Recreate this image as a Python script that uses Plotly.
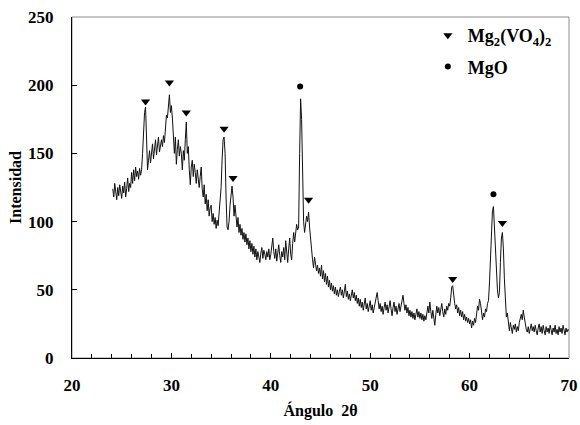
import numpy as np
import plotly.graph_objects as go

# Diffraction scan: 2θ from 24.1° to 70.0° in 0.1° steps
two_theta_start = 24.1
two_theta_step = 0.1

intensity = [
    # 24.1 - 24.9
    124, 118, 128, 121, 116, 125, 119, 127, 120,
    # 25.0 - 25.9
    117, 126, 121, 129, 118, 124, 132, 122, 128, 125,
    # 26.0 - 26.9
    136, 128, 138, 130, 140, 133, 137, 131, 139, 134,
    # 27.0 - 27.9
    138, 150, 168, 180, 184, 160, 138, 145, 152, 143,
    # 28.0 - 28.9
    150, 157, 146, 154, 160, 149, 156, 162, 151, 158,
    # 29.0 - 29.9
    160, 155, 163, 158, 170, 178, 176, 186, 193, 180,
    # 30.0 - 30.9
    185, 176, 158, 150, 162, 142, 153, 160, 148, 155,
    # 31.0 - 31.9
    150, 138, 152, 145, 160, 173, 150, 155, 138, 127,
    # 32.0 - 32.9
    140, 145, 133, 142, 136, 128, 138, 130, 125, 133,
    # 33.0 - 33.9
    140, 124, 118, 127, 113, 120, 108, 116, 104, 110,
    # 34.0 - 34.9
    112, 100, 106, 98, 103, 95, 101, 97, 105, 112,
    # 35.0 - 35.9
    125, 145, 160, 162, 150, 118, 96, 94, 100, 112,
    # 36.0 - 36.9
    118, 126, 118, 104, 112, 100, 96, 103, 92, 98,
    # 37.0 - 37.9
    90, 95, 87, 92, 85, 91, 83, 88, 80, 86,
    # 38.0 - 38.9
    78, 84, 76, 82, 74, 80, 72, 78, 75, 70,
    # 39.0 - 39.9
    77, 81, 73, 79, 76, 72, 78, 74, 80, 72,
    # 40.0 - 40.9
    76, 82, 88, 78, 73, 80, 71, 77, 83, 75,
    # 41.0 - 41.9
    70, 78, 74, 81, 72, 86, 76, 70, 80, 88,
    # 42.0 - 42.9
    76, 72, 84, 92, 85, 90, 98, 94, 96, 150,
    # 43.0 - 43.9
    190, 175, 130, 100, 92, 98, 104, 100, 107, 96,
    # 44.0 - 44.9
    90, 80, 72, 66, 74, 70, 64, 68, 62, 66,
    # 45.0 - 45.9
    60, 68, 58, 64, 56, 62, 54, 60, 52, 57,
    # 46.0 - 46.9
    50, 55, 49, 53, 47, 52, 46, 50, 45, 49,
    # 47.0 - 47.9
    52, 46, 50, 44, 48, 54, 45, 49, 43, 47,
    # 48.0 - 48.9
    42, 46, 50, 44, 48, 42, 46, 40, 44, 38,
    # 49.0 - 49.9
    43, 37, 41, 35, 39, 44, 36, 40, 34, 38,
    # 50.0 - 50.9
    42, 35, 39, 33, 37, 41, 44, 48, 42, 36,
    # 51.0 - 51.9
    40, 34, 38, 32, 37, 41, 35, 39, 33, 37,
    # 52.0 - 52.9
    42, 36, 31, 37, 41, 34, 38, 32, 36, 40,
    # 53.0 - 53.9
    34, 38, 42, 46, 40, 35, 39, 33, 37, 31,
    # 54.0 - 54.9
    35, 30, 34, 29, 33, 28, 32, 36, 30, 34,
    # 55.0 - 55.9
    29, 33, 28, 32, 27, 31, 28, 35, 38, 33,
    # 56.0 - 56.9
    41, 34, 29, 35, 30, 24, 32, 38, 33, 37,
    # 57.0 - 57.9
    31, 36, 40, 34, 30, 36, 32, 38, 35, 40,
    # 58.0 - 58.9
    38, 44, 52, 53, 45, 40, 36, 39, 33, 37,
    # 59.0 - 59.9
    31, 35, 30, 34, 28, 32, 27, 30, 26, 29,
    # 60.0 - 60.9
    25, 28, 22, 27, 24, 29, 26, 32, 38, 35,
    # 61.0 - 61.9
    43, 40, 34, 28, 33, 30, 36, 34, 40, 42,
    # 62.0 - 62.9
    55, 78, 100, 108, 111, 96, 72, 55, 50, 44,
    # 63.0 - 63.9
    48, 70, 88, 92, 80, 58, 38, 30, 33, 24,
    # 64.0 - 64.9
    20, 26, 22, 18, 24, 21, 25, 19, 23, 20,
    # 65.0 - 65.9
    26, 29, 32, 28, 35, 30, 24, 21, 19, 23,
    # 66.0 - 66.9
    18, 22, 25, 20, 23, 19, 24, 20, 17, 22,
    # 67.0 - 67.9
    25, 19, 23, 18, 24, 20, 17, 23, 19, 22,
    # 68.0 - 68.9
    18, 24, 20, 17, 22, 19, 24, 18, 21, 17,
    # 69.0 - 69.9
    23, 19, 22, 18, 24, 20, 17, 22, 19, 21,
    # 70.0
    20,
]

two_theta = np.round(two_theta_start + two_theta_step * np.arange(len(intensity)), 1)

# Phase identification marks placed above their reflections
mg2vo42_angle = [27.4, 29.8, 31.5, 35.3, 36.2, 43.8, 58.3, 63.3]
mg2vo42_level = [188, 202, 180, 168, 132, 116, 58, 99]
mgo_angle = [42.95, 62.4]
mgo_level = [199, 120]

# Axis tick values and their labels
x_ticks = [20, 30, 40, 50, 60, 70]
y_ticks = [0, 50, 100, 150, 200, 250]

serif = "Liberation Serif, Times New Roman, serif"

fig = go.Figure()
fig.add_trace(go.Scatter(
    x=two_theta, y=intensity, mode="lines",
    line=dict(color="#111111", width=1),
    showlegend=False, hoverinfo="skip",
))
fig.add_trace(go.Scatter(
    x=mg2vo42_angle, y=mg2vo42_level, mode="markers",
    name="<b>Mg<sub>2</sub>(VO<sub>4</sub>)<sub>2</sub></b>", legendgroup="a",
    marker=dict(symbol="triangle-down", size=8, color="black"),
))
fig.add_trace(go.Scatter(
    x=mgo_angle, y=mgo_level, mode="markers",
    name="<b>MgO</b>", legendgroup="b",
    marker=dict(symbol="circle", size=6, color="black"),
))

# Light frame around the plotting area (top and right sides)
fig.add_shape(type="rect", xref="paper", yref="paper", x0=0, y0=0, x1=1, y1=1,
              line=dict(color="#8c8c8c", width=1), layer="below")

fig.update_layout(
    width=580, height=425,
    margin=dict(l=72, r=11, t=17, b=67, autoexpand=False),
    paper_bgcolor="white", plot_bgcolor="white",
    font=dict(family=serif, color="black", size=16),
    legend=dict(x=0.716, y=1.0, xanchor="left", yanchor="top",
                bgcolor="rgba(0,0,0,0)", font=dict(family=serif, size=18, color="black"),
                itemwidth=30, traceorder="grouped", tracegroupgap=5),
    xaxis=dict(
        range=[20, 70], tickvals=x_ticks, ticktext=[f"<b>{v}</b>" for v in x_ticks],
        automargin=False,
        showgrid=False, zeroline=False,
        showline=True, linecolor="black", linewidth=1,
        ticks="inside", ticklen=5, tickcolor="black",
        ticklabelstandoff=12,
        minor=dict(dtick=2, tick0=20, ticks="inside", ticklen=4, tickcolor="black", showgrid=False),
        tickfont=dict(family=serif, size=17, color="black"),
        title=dict(text="<b>Ángulo  2θ</b>", standoff=10,
                   font=dict(family=serif, size=16, color="black")),
    ),
    yaxis=dict(
        range=[0, 250], tickvals=y_ticks, ticktext=[f"<b>{v}</b>" for v in y_ticks],
        automargin=False,
        showgrid=False, zeroline=False,
        showline=True, linecolor="black", linewidth=1,
        ticks="inside", ticklen=5, tickcolor="black",
        ticklabelstandoff=14,
        tickfont=dict(family=serif, size=17, color="black"),
        title=dict(text="<b>Intensidad</b>", standoff=2,
                   font=dict(family=serif, size=16, color="black")),
    ),
)

fig.write_html("out.html")
